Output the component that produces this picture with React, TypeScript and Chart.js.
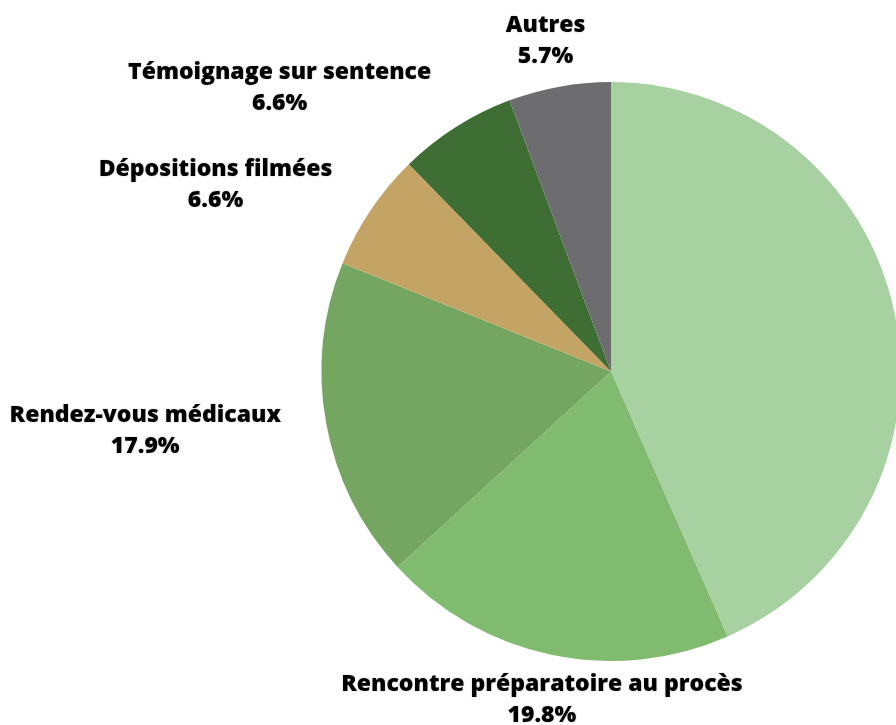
import React, { useEffect, useRef } from "react";
import { Chart, registerables } from "chart.js";

Chart.register(...registerables);

const categories = [
  "Audiences au tribunal",
  "Rencontre préparatoire au procès",
  "Rendez-vous médicaux",
  "Dépositions filmées",
  "Témoignage sur sentence",
  "Autres",
];
const shares = [43.4, 19.8, 17.9, 6.6, 6.6, 5.7];
const sliceColors = ["#a8d1a2", "#80bb70", "#74a662", "#c4a464", "#3e6e33", "#6d6d6f"];

const labelPlugin = {
  id: "outsideLabels",
  afterDatasetsDraw(chart: any) {
    const ctx = chart.ctx;
    const meta = chart.getDatasetMeta(0);
    const data = chart.data.datasets[0].data as number[];
    const font = "800 23px 'Open Sans', sans-serif";
    const lineH = 31;
    ctx.save();
    ctx.font = font;
    ctx.fillStyle = "#000";
    ctx.textAlign = "center";
    ctx.textBaseline = "middle";
    ctx.shadowColor = "rgba(0,0,0,0.25)";
    ctx.shadowBlur = 2;
    meta.data.forEach((arc: any, i: number) => {
      const mid = (arc.startAngle + arc.endAngle) / 2;
      const vx = Math.cos(mid);
      const vy = Math.sin(mid);
      const r = arc.outerRadius + 46;
      const ax = arc.x + vx * r;
      const ay = arc.y + vy * r;
      const lines = [chart.data.labels[i], data[i].toFixed(1) + "%"];
      const w = Math.max(...lines.map((l: string) => ctx.measureText(l).width));
      let cx = ax;
      if (Math.abs(vx) > 0.4) cx = ax + Math.sign(vx) * w / 2;
      else if (vy < 0) cx = ax + vx * w / 2 * 0.8;
      const cy = ay;
      ctx.fillText(lines[0], cx, cy - lineH / 2);
      ctx.fillText(lines[1], cx, cy + lineH / 2);
    });
    ctx.restore();
  },
};

export default function App() {
  const ref = useRef<HTMLCanvasElement>(null);
  useEffect(() => {
    if (!ref.current) return;
    const chart = new Chart(ref.current, {
      type: "pie",
      data: {
        labels: categories,
        datasets: [
          {
            data: shares,
            backgroundColor: sliceColors,
            borderWidth: 0,
          },
        ],
      },
      options: {
        responsive: false,
        animation: false,
        layout: { padding: { left: 321, right: 99, top: 82, bottom: 64 } },
        plugins: {
          legend: { display: false },
          tooltip: { enabled: false },
        },
      },
      plugins: [labelPlugin],
    });
    return () => chart.destroy();
  }, []);
  return (
    <div
      style={{
        position: "absolute",
        left: 0,
        top: 0,
        width: 896,
        height: 725,
        overflow: "hidden",
        background: "#ffffff",
      }}
    >
      <canvas ref={ref} width={1000} height={725} style={{ display: "block" }} />
    </div>
  );
}
